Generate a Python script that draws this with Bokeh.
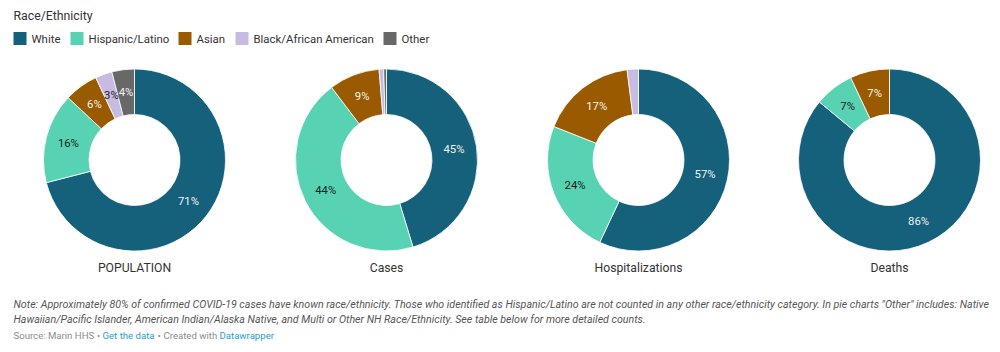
import math
from bokeh.plotting import figure
from bokeh.models import Range1d, ColumnDataSource
from bokeh.core.properties import value
from bokeh.embed import file_html
from bokeh.resources import INLINE

W, H = 1000, 352

categories = ["White", "Hispanic/Latino", "Asian", "Black/African American", "Other"]
colors = ["#15607a", "#57d3b3", "#995a00", "#c8bbe2", "#686868"]
label_colors = ["#f2f2f2", "#1d1d1d", "#f2f2f2", "#1d1d1d", "#f2f2f2"]

charts = ["POPULATION", "Cases", "Hospitalizations", "Deaths"]
population = [71, 16, 6, 3, 4]
cases = [45.3, 44.4, 9.0, 0.8, 0.5]
hospitalizations = [57, 24, 17, 2, 0]
deaths = [86, 7, 7, 0, 0]
series = [population, cases, hospitalizations, deaths]

title = "Race/Ethnicity"
note_line1 = ("Note: Approximately 80% of confirmed COVID-19 cases have known race/ethnicity. "
              "Those who identified as Hispanic/Latino are not counted in any other race/ethnicity "
              "category. In pie charts \"Other\" includes: Native")
note_line2 = ("Hawaiian/Pacific Islander, American Indian/Alaska Native, and Multi or Other NH "
              "Race/Ethnicity. See table below for more detailed counts.")

FONT = value("Roboto")

p = figure(width=W, height=H, output_backend="svg", toolbar_location=None,
           x_range=Range1d(0, W), y_range=Range1d(0, H), min_border=0,
           outline_line_color=None)
p.axis.visible = False
p.grid.visible = False
p.background_fill_color = "white"
p.border_fill_color = "white"


def Y(sy):
    return H - sy


# donuts
centers_x = [134, 386, 638, 889]
cy = 159.5
r_out = 91
r_in = 45.5

for ci, (name, vals) in enumerate(zip(charts, series)):
    total = float(sum(vals))
    cum = 0.0
    xs, ys, starts, ends, cols = [], [], [], [], []
    lx, ly, ltxt, lcol = [], [], [], []
    for v, c, lc in zip(vals, colors, label_colors):
        if v <= 0:
            continue
        f0 = cum / total
        f1 = (cum + v) / total
        cum += v
        xs.append(centers_x[ci]); ys.append(Y(cy))
        starts.append(math.pi / 2 - 2 * math.pi * f0)
        ends.append(math.pi / 2 - 2 * math.pi * f1)
        cols.append(c)
        if v >= 3:
            fm = (f0 + f1) / 2
            a = math.pi / 2 - 2 * math.pi * fm
            rm = (r_out + r_in) / 2
            lx.append(centers_x[ci] + rm * math.cos(a))
            ly.append(Y(cy) + rm * math.sin(a))
            ltxt.append(f"{round(v)}%")
            lcol.append(lc)
    src = ColumnDataSource(dict(x=xs, y=ys, s=starts, e=ends, c=cols))
    p.annular_wedge(x="x", y="y", inner_radius=r_in, outer_radius=r_out,
                    start_angle="s", end_angle="e", direction="clock",
                    fill_color="c", line_color="white", line_width=0.8, source=src)
    lsrc = ColumnDataSource(dict(x=lx, y=ly, t=ltxt, c=lcol))
    p.text(x="x", y="y", text="t", text_color="c", text_font=FONT,
           text_font_size="11.3px", text_align="center", text_baseline="middle", source=lsrc)
    p.text(x=[centers_x[ci]], y=[Y(267)], text=[name], text_color="#333333", text_font=FONT,
           text_font_size="12.2px", text_align="center", text_baseline="middle")

# legend
p.text(x=[13], y=[Y(15)], text=[title], text_color="#333333", text_font=FONT,
       text_font_size="12.3px", text_align="left", text_baseline="middle")
sq_x = [13, 70, 178, 235, 383]
for sx, cat, col in zip(sq_x, categories, colors):
    p.rect(x=[sx + 6.5], y=[Y(38)], width=13, height=13, fill_color=col, line_color=None)
    p.text(x=[sx + 18], y=[Y(38)], text=[cat], text_color="#333333", text_font=FONT,
           text_font_size="11.4px", text_align="left", text_baseline="middle")

# footer
for ty, t in [(304, note_line1), (318.5, note_line2)]:
    p.text(x=[13], y=[Y(ty)], text=[t], text_color="#555555", text_font=FONT,
           text_font_size="10.65px", text_font_style="italic", text_align="left",
           text_baseline="middle")

src_parts = [("Source: Marin HHS", "#8c8c8c", 13),
             ("\u2022", "#8c8c8c", 96.5),
             ("Get the data", "#1d9fd1", 102),
             ("\u2022", "#8c8c8c", 157),
             ("Created with", "#8c8c8c", 163),
             ("Datawrapper", "#1d9fd1", 219)]
for t, col, sx in src_parts:
    p.text(x=[sx], y=[Y(335)], text=[t], text_color=col, text_font=FONT,
           text_font_size="9.6px", text_align="left", text_baseline="middle")

open("out.html", "w").write(file_html(p, INLINE))
